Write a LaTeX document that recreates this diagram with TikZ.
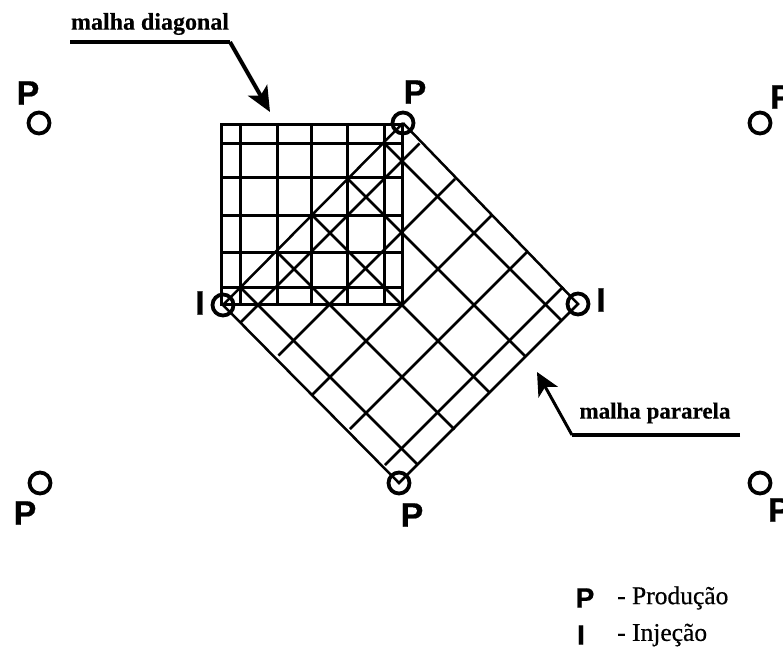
\documentclass[tikz,border=0pt]{standalone}
\usepackage{fontspec}
\setmainfont{Liberation Serif}
\newfontfamily\wellfont{Liberation Sans Bold}[FakeBold=0.6]
\newfontfamily\legendfont{Liberation Serif}[FakeBold=0.5]
\newfontfamily\captionfont{Liberation Serif Bold}[FakeBold=0.3]
\usetikzlibrary{arrows.meta}
\tikzset{
  x=1pt,y=-1pt,
  well/.style={draw=black,circle,line width=3.8pt,minimum size=21pt,inner sep=0pt,outer sep=0pt},
  welllabel/.style={font=\wellfont\fontsize{34}{34}\selectfont,inner sep=0pt},
  legendletter/.style={font=\wellfont\fontsize{28}{28}\selectfont,inner sep=0pt},
  caption/.style={font=\captionfont\fontsize{24}{24}\selectfont,inner sep=0pt},
  legendtext/.style={font=\legendfont\fontsize{25.5}{25.5}\selectfont,inner sep=0pt,anchor=west},
  gridsq/.style={line width=3pt,black},
  griddi/.style={line width=2.5pt,black},
  leader/.style={line width=4pt,black},
  pointerD/.style={line width=4pt,black,-{Stealth[length=25pt,width=22pt,inset=6pt]}},
  pointerP/.style={line width=3pt,black,-{Stealth[length=23pt,width=22pt,inset=6pt]}},
}
\begin{document}
\begin{tikzpicture}
\useasboundingbox (0,0) rectangle (783,648);
\clip (0,0) rectangle (783,648);
% wells
\node[well] (pT) at (403,123) {};
\node[well] (pB) at (399,483) {};
\node[well] (iL) at (223,305) {};
\node[well] (iR) at (578,304) {};
\node[well] (cTL) at (39,123) {};
\node[well] (cTR) at (760,123) {};
\node[well] (cBL) at (40,483) {};
\node[well] (cBR) at (760,483) {};
% well labels
\node[welllabel] (lT) at (415,92) {P};
\node[welllabel] (lB) at (412,515) {P};
\node[welllabel] (lTL) at (28,93) {P};
\node[welllabel,anchor=west] (lTR) at (770,97) {P};
\node[welllabel] (lBL) at (25,513) {P};
\node[welllabel,anchor=west] (lBR) at (768,510) {P};
\node[welllabel] (lL) at (200,303) {I};
\node[welllabel] (lR) at (601,300) {I};
% diagonal mesh: square
\coordinate (sTL) at (221,124);
\coordinate (sBR) at (402,304);
\draw[gridsq] (sTL) rectangle (sBR);
\foreach \x in {240,277,311,347,384} \draw[gridsq] (\x,124) -- (\x,304);
\foreach \y in {143,177,215,252,287} \draw[gridsq] (221,\y) -- (402,\y);
% parallel mesh: outline
\draw[griddi] (pT.center) -- (iL.center) -- (pB.center) -- (iR.center) -- (pT.center);
% "/" family: s = x+y, from the lower-left edge to the upper-right edge
\foreach \s/\d in {563/81,634/77,707/82,779/79,850/80}
  \draw[griddi] ({(\s-\d)/2},{(\s+\d)/2}) -- ({(\s+276)/2},{(\s-276)/2});
% "\" family: d = y-x, from the main diagonal to the lower-right edge
\foreach \d/\s in {47/881,-25/884,-97/883,-169/883,-241/882}
  \draw[griddi] ({(527-\d)/2},{(527+\d)/2}) -- ({(\s-\d)/2},{(\s+\d)/2});
% captions
\node[caption] (capD) at (150,24) {malha diagonal};
\coordinate (dA) at (70,42);
\coordinate (dB) at (230,42);
\coordinate (dC) at (270,112);
\draw[leader] (dA) -- (dB);
\draw[pointerD] (dB) -- (dC);
\node[caption,font=\captionfont\fontsize{23}{23}\selectfont] (capP) at (655,413) {malha pararela};
\coordinate (pA) at (740,435);
\coordinate (pB2) at (572,435);
\coordinate (pC) at (537,372);
\draw[leader] (pA) -- (pB2);
\draw[pointerP] (pB2) -- (pC);
% legend
\node[legendletter] (legP) at (585,598) {P};
\node[legendletter] (legI) at (581,635) {I};
\node[legendtext] (txtP) at (617,598) {- Produção};
\node[legendtext] (txtI) at (617,635) {- Injeção};
\end{tikzpicture}
\end{document}
